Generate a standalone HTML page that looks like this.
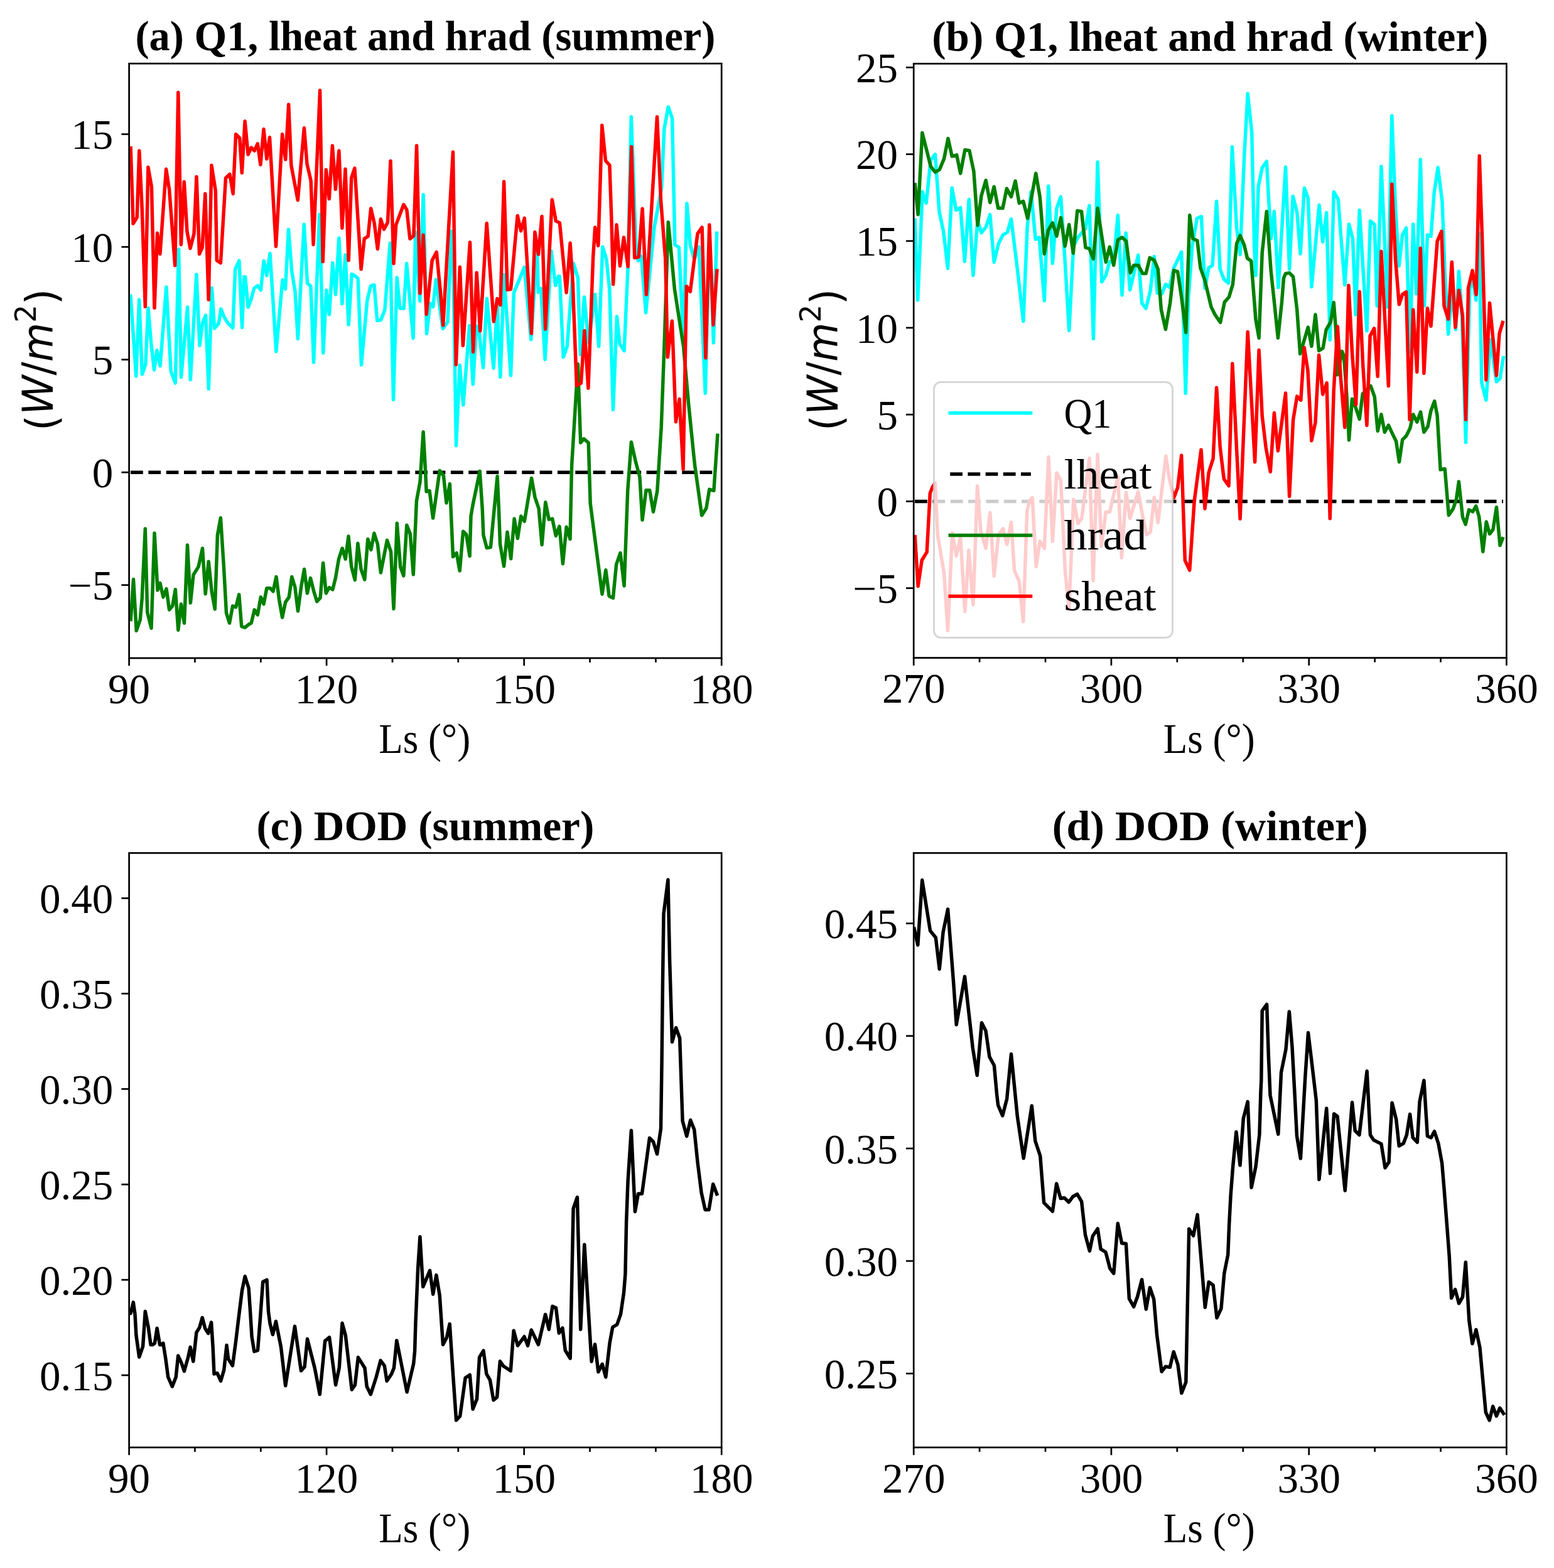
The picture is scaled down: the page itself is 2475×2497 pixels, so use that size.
<!DOCTYPE html>
<html><head><meta charset="utf-8"><title>figure</title><style>html,body{margin:0;padding:0;background:#fff;}svg{display:block;}</style></head><body>
<svg xmlns="http://www.w3.org/2000/svg" width="2475" height="2497" viewBox="0 0 2475 2497">
<rect width="2475" height="2497" fill="#ffffff"/>
<defs>
<clipPath id="clipa"><rect x="205.6" y="101.2" width="943.6" height="946.8"/></clipPath>
<clipPath id="clipb"><rect x="1455.2" y="101.4" width="944.2" height="946.2"/></clipPath>
<clipPath id="clipc"><rect x="205.6" y="1358.4" width="943.6" height="946.6"/></clipPath>
<clipPath id="clipd"><rect x="1455.2" y="1358.4" width="944.2" height="946.6"/></clipPath>
</defs>
<polyline points="207.8,468.7 216.8,599.1 221.7,477.2 226.4,596.0 231.8,580.5 236.0,490.4 240.7,546.3 245.5,589.0 250.0,558.0 255.1,582.8 264.9,457.0 272.2,591.4 279.2,610.0 284.6,397.3 288.5,600.7 298.6,488.9 303.3,604.6 312.9,436.9 318.0,550.2 322.7,513.7 327.6,502.1 332.3,619.3 337.4,458.6 341.6,523.0 348.3,515.3 351.9,492.0 356.8,504.4 362.3,513.7 370.8,522.3 374.7,428.3 380.9,415.1 385.6,521.5 388.7,440.7 390.6,441.0 395.2,489.2 400.2,476.0 404.8,458.9 410.3,455.0 415.4,462.0 420.1,415.4 425.0,438.7 430.0,403.8 434.3,469.8 439.8,559.8 449.9,445.7 454.5,460.4 459.5,365.4 464.6,430.9 470.1,465.1 474.4,539.6 484.3,357.2 489.5,451.1 494.9,455.8 499.6,576.9 508.9,341.6 514.8,562.1 519.8,462.0 524.4,500.8 529.8,418.5 534.5,469.0 539.9,378.9 544.9,483.7 550.0,406.1 555.2,517.1 560.1,436.4 565.6,439.5 570.1,443.5 575.5,581.1 584.8,478.6 590.3,455.3 596.0,453.7 600.7,510.4 606.6,509.6 612.8,494.1 621.3,387.0 626.5,636.5 632.2,442.1 636.9,491.0 643.1,491.0 647.7,419.6 658.1,538.4 661.7,369.9 668.7,479.3 674.1,310.1 679.6,531.4 685.0,483.2 689.7,488.7 694.3,445.2 705.2,523.6 713.0,512.7 719.2,368.3 721.5,400.0 726.5,709.7 732.3,581.4 737.8,645.1 747.7,518.4 753.3,612.0 758.8,519.3 762.9,527.5 769.6,585.5 775.4,475.4 786.1,586.3 791.9,486.1 796.9,600.4 802.7,437.3 813.5,597.9 818.4,466.3 825.9,448.0 835.0,425.7 845.8,540.8 854.9,400.0 855.0,385.0 857.3,465.4 861.5,459.6 868.1,572.3 878.1,400.0 884.7,454.7 889.6,439.8 891.3,440.0 897.2,568.7 903.2,551.6 913.3,419.4 920.4,442.6 924.4,564.7 930.5,472.9 937.5,545.5 947.6,468.8 953.7,551.6 959.7,393.1 965.8,412.3 970.8,460.7 976.5,652.5 982.5,504.1 987.0,547.5 994.1,558.6 1000.1,426.4 1005.3,186.1 1013.3,404.7 1016.5,415.3 1021.4,407.8 1028.6,498.0 1042.0,362.2 1053.7,298.6 1057.9,205.2 1064.3,170.2 1070.6,188.2 1074.9,389.8 1081.3,394.0 1088.5,545.0 1094.0,324.0 1099.3,389.8 1105.7,413.1 1113.1,393.0 1123.3,626.3 1130.0,370.0 1136.4,545.8 1141.7,368.6" fill="none" stroke="#00ffff" stroke-width="5.5" stroke-linejoin="round" stroke-linecap="butt" clip-path="url(#clipa)" />
<line x1="208.0" y1="752.2" x2="1142.5" y2="752.2" stroke="#000" stroke-width="5.5" stroke-dasharray="19.8 8.53" clip-path="url(#clipa)"/>
<polyline points="208.1,989.2 212.5,922.6 217.2,1004.4 223.2,987.2 226.2,952.9 231.3,841.9 234.7,975.1 241.0,1000.3 246.0,848.9 249.5,912.5 250.9,939.8 254.9,928.7 260.0,950.9 265.0,937.7 269.6,971.1 274.7,965.0 279.3,938.8 283.8,1003.4 288.4,962.0 293.5,992.3 298.5,868.1 303.4,960.0 308.0,915.5 316.1,902.4 322.5,873.2 327.2,945.8 332.2,894.3 337.3,942.8 342.3,970.0 346.4,852.0 351.4,824.7 356.4,902.4 360.5,976.1 365.5,992.3 370.6,965.0 375.6,967.0 380.7,946.8 384.7,997.3 390.1,999.3 396.1,994.3 400.2,992.3 405.2,971.1 410.3,979.1 415.3,950.9 420.0,962.0 424.8,936.7 430.5,936.7 434.9,941.8 440.0,918.6 444.6,954.9 449.6,983.2 454.7,958.9 460.3,950.9 464.8,918.6 469.8,934.7 474.5,973.1 479.9,932.7 484.6,906.5 489.4,944.8 494.5,920.6 500.1,942.8 504.8,957.9 510.2,951.9 514.6,896.4 519.3,944.8 524.3,935.7 529.8,938.8 534.4,920.6 539.5,890.3 545.1,873.2 550.2,890.3 555.0,854.0 559.7,902.4 565.3,923.6 569.9,865.3 575.1,906.8 580.8,923.0 585.8,858.4 590.9,875.5 595.9,849.3 601.4,866.5 606.4,911.9 616.5,860.4 622.6,878.6 627.0,969.4 632.3,833.2 637.7,902.8 642.8,916.9 647.8,836.2 653.3,850.3 658.3,914.9 663.4,797.8 669.0,767.5 674.1,687.8 677.1,741.3 679.1,782.7 684.1,781.7 689.6,825.1 700.3,749.4 706.4,757.5 711.0,800.9 716.4,770.6 719.5,842.2 721.5,886.6 727.1,880.6 732.2,908.9 737.6,846.3 742.7,851.3 748.1,885.6 750.0,822.0 753.1,803.9 764.2,750.4 768.3,812.0 769.9,852.3 775.3,872.5 781.4,871.5 792.1,758.5 794.5,812.0 796.5,866.5 802.6,901.8 808.0,847.3 813.7,889.7 819.1,826.1 824.4,857.4 829.8,822.0 835.3,830.1 846.6,761.5 852.0,791.8 858.1,809.9 863.1,867.5 868.8,799.8 874.2,827.1 879.7,826.1 885.3,853.3 891.0,838.2 896.4,897.7 902.1,839.2 908.0,858.4 910.6,741.3 920.4,579.8 924.7,705.0 929.9,698.9 937.2,705.0 940.2,801.9 959.0,946.2 964.8,907.8 970.1,949.2 976.5,952.3 981.6,898.8 988.0,880.6 994.1,933.1 999.7,781.7 1005.4,704.0 1012.9,737.3 1018.9,759.5 1023.0,828.1 1029.0,780.7 1034.7,780.7 1040.5,815.0 1046.8,781.7 1053.2,680.7 1058.3,541.5 1064.3,353.7 1074.4,460.7 1088.5,551.6 1096.6,642.4 1104.7,723.2 1106.6,740.9 1117.7,820.7 1124.8,809.6 1129.8,779.3 1136.9,781.3 1143.0,690.5" fill="none" stroke="#008000" stroke-width="5.5" stroke-linejoin="round" stroke-linecap="butt" clip-path="url(#clipa)" />
<polyline points="208.1,233.0 212.1,356.1 218.2,346.0 221.8,240.0 226.2,331.9 231.3,488.3 235.9,266.3 241.4,297.5 246.0,490.3 250.5,371.2 254.9,404.5 264.6,269.3 269.6,301.6 278.7,422.7 283.8,147.2 288.4,389.4 293.3,289.5 297.9,368.2 303.0,395.5 309.0,372.2 313.0,281.4 317.5,404.5 322.1,394.4 326.8,308.6 332.2,477.2 336.9,263.2 343.3,303.6 345.3,414.6 351.4,418.7 359.5,283.4 365.9,277.4 371.2,308.6 375.6,213.8 381.7,219.8 385.3,275.3 390.1,193.1 395.1,246.1 400.2,235.0 405.2,240.0 410.3,228.9 414.9,262.2 420.0,205.7 424.8,253.1 429.5,218.8 439.5,392.4 449.6,213.8 454.7,254.1 459.7,166.3 463.8,263.2 474.3,318.7 484.4,203.7 489.0,261.2 495.1,287.5 499.1,389.4 509.6,144.1 514.2,416.6 519.3,270.3 524.3,316.7 529.4,231.9 534.4,301.6 539.9,240.0 544.9,363.2 550.0,269.3 555.2,414.6 559.7,283.4 564.9,267.8 575.1,428.8 580.2,380.3 586.2,376.3 590.7,331.9 596.3,356.1 601.4,396.5 606.4,349.0 611.5,365.2 617.5,354.1 622.0,256.2 627.0,419.7 630.7,358.1 642.8,325.8 647.8,333.9 652.9,380.3 658.9,375.3 663.6,231.9 669.0,467.1 674.1,374.3 679.1,500.4 688.2,414.6 695.2,401.5 701.3,463.1 705.7,518.0 721.5,242.0 726.3,580.6 732.4,425.2 737.4,550.3 748.5,385.8 753.6,560.4 759.2,434.2 764.7,527.1 775.2,355.5 786.3,512.0 791.9,475.6 797.0,485.7 802.6,289.3 808.1,461.5 813.5,460.5 824.2,343.4 829.7,367.6 835.3,347.4 846.4,531.1 851.9,369.6 857.5,405.0 863.0,344.4 868.6,524.1 879.3,317.9 885.3,351.9 891.4,354.9 902.1,465.9 908.1,387.1 912.4,452.8 913.3,480.9 918.4,614.2 925.4,610.1 930.9,526.4 936.9,618.2 944.6,410.3 947.7,362.0 952.8,391.2 958.8,199.5 964.5,256.0 970.9,263.0 974.0,351.9 976.6,452.8 982.0,357.9 987.5,423.5 993.5,378.1 1000.2,424.5 1005.7,233.8 1010.7,410.5 1017.3,409.0 1023.1,332.3 1029.4,469.0 1046.5,185.9 1052.7,321.8 1059.8,412.4 1063.3,568.7 1070.4,511.2 1076.4,671.7 1082.1,635.4 1088.1,747.4 1093.4,455.9 1099.3,464.4 1111.0,372.2 1118.1,362.1 1123.9,569.8 1129.8,358.1 1136.0,517.3 1142.0,428.4" fill="none" stroke="#ff0000" stroke-width="5.5" stroke-linejoin="round" stroke-linecap="butt" clip-path="url(#clipa)" />
<polyline points="1457.1,347.7 1461.7,477.9 1469.2,305.3 1475.2,323.5 1482.3,254.9 1489.4,245.8 1493.4,301.3 1496.0,337.6 1502.5,367.9 1509.5,427.5 1516.2,299.3 1522.7,334.6 1529.7,330.6 1536.4,416.4 1543.3,317.5 1549.9,438.6 1557.0,351.8 1563.0,370.9 1570.1,361.9 1576.8,341.7 1583.2,417.4 1590.3,388.1 1597.4,374.0 1604.4,369.9 1610.5,348.7 1619.6,422.4 1629.8,511.7 1636.1,361.9 1642.1,305.3 1649.2,381.0 1655.2,378.0 1663.3,478.9 1669.8,296.3 1676.4,419.4 1682.9,331.6 1689.5,313.4 1696.6,422.4 1702.7,526.4 1709.7,392.1 1716.8,378.0 1728.9,363.9 1735.0,327.5 1741.4,539.5 1748.1,257.9 1754.8,448.7 1761.2,438.6 1767.3,416.4 1773.7,416.4 1780.4,342.7 1787.0,469.9 1793.1,370.9 1799.6,461.8 1812.7,406.3 1818.7,483.0 1825.1,491.1 1832.2,462.9 1838.3,408.4 1843.3,466.9 1850.4,467.9 1856.4,452.8 1862.9,457.8 1869.5,426.6 1881.7,401.3 1888.3,626.4 1892.8,473.0 1898.8,392.2 1906.5,347.8 1913.4,344.8 1919.0,458.9 1925.1,426.6 1931.1,422.5 1937.6,320.6 1943.2,428.6 1949.3,444.7 1956.4,450.8 1962.4,233.8 1969.5,362.0 1975.1,405.4 1981.6,250.9 1987.2,149.0 1993.7,210.6 1997.7,392.2 2000.0,438.7 2004.1,297.4 2010.2,267.1 2017.3,257.0 2020.3,311.5 2024.3,380.1 2029.4,336.7 2036.0,457.8 2047.5,266.1 2053.6,428.6 2059.2,312.5 2065.7,337.7 2071.1,404.3 2077.4,299.4 2083.3,315.5 2088.9,456.8 2101.0,326.6 2106.7,385.2 2112.7,338.7 2118.2,541.3 2124.2,305.4 2131.3,317.5 2135.3,372.0 2141.8,453.8 2148.5,356.9 2154.5,380.1 2159.2,501.2 2165.2,334.7 2176.9,527.0 2182.5,351.9 2189.2,357.9 2193.2,487.1 2199.9,265.1 2210.0,489.1 2216.8,184.3 2222.5,331.7 2228.1,423.5 2233.6,374.1 2239.6,363.0 2245.7,561.1 2250.7,356.9 2255.8,467.9 2262.3,254.0 2268.5,487.1 2273.4,374.1 2279.0,376.1 2284.1,307.5 2290.1,266.8 2297.0,321.4 2301.2,432.6 2306.6,532.0 2312.3,462.4 2318.4,524.8 2323.4,432.1 2328.4,502.8 2334.5,704.4 2340.6,462.4 2345.6,442.2 2350.7,478.0 2355.7,371.6 2359.8,609.6 2366.8,637.3 2373.9,541.1 2383.4,608.0 2389.0,603.0 2394.6,567.0" fill="none" stroke="#00ffff" stroke-width="5.5" stroke-linejoin="round" stroke-linecap="butt" clip-path="url(#clipb)" />
<line x1="1457.1" y1="798.4" x2="2394.0" y2="798.4" stroke="#000" stroke-width="5.5" stroke-dasharray="19.8 8.53" clip-path="url(#clipb)"/>
<polyline points="1457.1,291.2 1462.1,341.7 1468.8,211.5 1475.2,236.7 1482.3,265.0 1489.4,274.1 1496.4,270.0 1503.5,252.9 1510.0,220.6 1516.2,248.8 1523.7,246.8 1529.7,276.1 1536.8,238.7 1543.9,239.7 1550.9,273.0 1557.0,358.8 1563.0,311.4 1570.1,287.2 1576.8,322.5 1583.2,297.3 1589.7,331.6 1597.0,331.6 1603.4,300.3 1610.5,313.4 1617.1,288.2 1623.2,323.5 1629.7,320.5 1636.7,347.7 1649.8,276.1 1656.2,313.4 1659.3,351.8 1663.3,404.3 1669.4,366.9 1676.4,354.8 1682.9,376.0 1689.5,346.7 1696.2,392.1 1702.7,357.8 1709.3,403.2 1715.8,335.6 1722.5,336.6 1728.9,394.2 1735.0,396.2 1741.4,412.3 1748.1,331.6 1754.1,372.0 1761.2,417.4 1767.3,393.2 1773.7,422.4 1780.4,382.0 1787.0,378.0 1793.5,384.1 1800.2,434.5 1805.6,422.4 1812.7,422.4 1819.8,435.5 1825.1,435.6 1831.2,410.4 1838.3,414.4 1844.3,428.6 1849.4,493.2 1856.4,524.5 1863.5,483.1 1869.5,430.6 1875.6,432.6 1881.7,473.0 1888.7,529.5 1894.8,342.8 1899.8,380.1 1906.9,383.2 1911.9,426.6 1919.0,446.7 1929.1,489.1 1935.2,501.2 1943.6,513.4 1950.3,481.1 1957.4,473.0 1963.4,452.8 1969.5,388.2 1975.1,375.1 1981.6,390.2 1986.6,411.4 1992.7,415.5 2000.0,509.3 2005.1,538.3 2010.2,402.3 2017.3,336.7 2024.3,432.6 2028.4,470.7 2035.4,538.3 2041.5,480.7 2044.5,442.7 2047.5,435.6 2053.6,434.6 2059.6,440.7 2065.7,493.2 2070.7,563.5 2083.3,521.1 2088.9,551.4 2095.0,500.9 2100.6,558.5 2107.1,554.4 2112.1,525.2 2119.2,513.0 2124.2,481.8 2127.3,521.1 2130.3,596.8 2137.4,559.5 2140.4,567.5 2144.4,622.0 2148.5,700.8 2153.5,635.2 2159.6,650.3 2165.2,667.5 2170.3,627.1 2183.1,614.6 2189.2,631.8 2194.2,686.3 2199.9,660.0 2205.3,688.3 2211.4,677.2 2218.4,692.3 2223.5,702.4 2228.5,735.7 2233.6,700.4 2239.6,694.3 2245.7,682.2 2250.7,660.0 2256.8,672.1 2262.5,656.0 2267.9,688.3 2274.0,679.2 2279.0,654.0 2284.7,638.8 2289.1,662.0 2294.1,747.8 2301.2,746.8 2307.3,820.5 2314.3,810.4 2319.4,795.3 2323.4,767.0 2329.5,823.5 2334.1,835.1 2339.5,811.9 2345.6,814.9 2350.7,805.8 2355.7,823.0 2361.8,878.5 2367.2,831.1 2372.5,850.2 2377.9,843.2 2383.4,807.8 2389.0,868.4 2394.1,855.3" fill="none" stroke="#008000" stroke-width="5.5" stroke-linejoin="round" stroke-linecap="butt" clip-path="url(#clipb)" />
<polyline points="1457.1,851.9 1462.1,933.6 1468.2,892.2 1476.2,879.1 1481.3,785.2 1485.3,775.2 1489.4,769.1 1493.4,851.9 1498.4,882.1 1503.5,912.4 1509.5,1004.3 1516.6,848.8 1523.1,885.2 1529.7,855.9 1536.8,974.0 1542.9,876.1 1549.9,962.9 1556.6,774.1 1562.0,845.8 1570.1,873.1 1576.8,816.5 1583.2,917.5 1590.3,851.9 1597.4,841.8 1603.8,867.0 1610.5,831.7 1615.5,908.4 1623.2,925.5 1629.7,990.1 1635.7,813.5 1640.0,797.4 1644.1,792.3 1650.2,902.3 1656.2,862.0 1663.3,873.1 1670.0,727.7 1676.4,862.0 1682.9,753.0 1689.5,765.1 1696.6,912.4 1702.7,968.9 1709.7,795.3 1716.8,833.7 1722.9,825.6 1735.0,729.7 1741.0,924.5 1748.1,723.7 1754.1,870.0 1761.2,815.5 1767.3,815.5 1780.4,759.0 1786.4,888.2 1793.5,784.2 1799.6,825.6 1812.7,783.2 1819.8,821.6 1826.1,851.4 1832.2,847.4 1838.3,791.9 1844.3,832.3 1856.8,726.3 1862.5,762.6 1869.5,792.9 1875.6,776.7 1881.7,725.3 1887.3,892.3 1894.7,908.1 1902.2,797.3 1913.0,716.2 1919.0,810.0 1925.1,752.5 1932.1,730.3 1937.6,617.3 1943.2,712.1 1949.3,762.6 1957.0,773.7 1962.8,578.9 1975.1,826.2 1987.2,528.4 1998.6,735.7 2005.1,557.5 2010.2,662.4 2016.2,712.9 2023.3,751.2 2029.4,657.4 2035.4,717.9 2047.5,626.1 2053.6,790.4 2059.6,668.5 2065.7,631.1 2071.8,637.2 2077.2,553.4 2082.9,589.8 2088.9,701.8 2095.0,672.5 2100.6,565.5 2106.7,628.1 2113.1,609.9 2118.2,825.7 2124.2,622.0 2130.3,520.1 2135.3,601.9 2141.8,680.6 2147.9,454.5 2153.5,561.5 2159.6,644.3 2165.2,464.6 2170.7,581.7 2176.9,677.4 2182.1,534.9 2188.6,522.8 2194.2,599.5 2199.9,400.3 2211.4,614.6 2216.8,293.3 2222.5,412.4 2228.3,484.8 2233.6,468.9 2239.6,464.9 2245.1,668.1 2250.7,493.2 2256.8,592.4 2262.3,395.3 2267.9,594.4 2273.4,491.1 2279.0,519.4 2289.1,384.2 2295.9,368.3 2299.9,486.8 2306.6,508.1 2312.3,417.2 2317.9,521.2 2323.4,462.2 2329.5,502.8 2334.5,668.1 2338.5,458.6 2345.1,430.9 2351.2,469.2 2356.2,248.2 2360.7,381.7 2366.8,605.0 2372.5,482.6 2383.4,597.9 2388.0,531.1 2394.1,510.9" fill="none" stroke="#ff0000" stroke-width="5.5" stroke-linejoin="round" stroke-linecap="butt" clip-path="url(#clipb)" />
<polyline points="206.3,2088.3 208.1,2091.4 212.3,2073.9 215.0,2092.7 216.9,2126.5 221.7,2161.0 227.6,2144.1 231.3,2088.3 236.3,2114.0 240.1,2141.6 242.6,2141.6 246.4,2139.1 250.1,2115.2 254.5,2141.6 256.4,2141.6 259.9,2139.1 263.9,2164.1 267.7,2193.0 274.3,2208.0 280.2,2193.0 283.7,2159.1 289.0,2170.4 293.4,2183.6 299.6,2161.6 303.1,2145.3 307.8,2167.9 310.9,2140.3 312.8,2122.1 317.8,2114.0 322.2,2098.3 326.6,2115.2 331.6,2123.4 336.6,2105.8 339.1,2145.3 341.0,2187.9 346.0,2186.7 351.6,2199.2 356.7,2181.7 361.0,2142.2 363.6,2164.1 370.4,2174.8 375.5,2136.6 380.5,2095.2 385.5,2055.1 390.2,2032.5 396.1,2051.3 398.6,2088.9 401.1,2129.0 404.9,2152.2 410.5,2150.3 414.3,2101.5 418.7,2041.3 425.0,2038.2 427.5,2088.9 430.0,2107.7 434.4,2125.3 439.4,2104.3 447.5,2145.3 454.7,2206.7 469.5,2112.1 479.5,2182.9 485.1,2176.7 489.5,2132.2 501.4,2179.2 509.3,2220.5 517.7,2135.3 524.6,2129.7 534.6,2205.5 540.3,2177.9 545.0,2107.1 550.3,2126.5 560.3,2213.0 565.4,2205.5 570.4,2161.6 581.0,2178.5 584.2,2208.0 590.4,2220.5 599.2,2193.0 606.1,2166.6 612.3,2174.8 616.1,2199.2 623.6,2187.9 627.4,2178.5 631.8,2134.7 648.1,2216.8 658.7,2171.6 660.6,2151.6 661.9,2107.7 665.6,2020.0 668.9,1969.6 673.7,2049.1 684.6,2023.4 689.7,2061.1 694.9,2030.6 700.2,2062.7 705.5,2141.3 711.4,2130.1 716.2,2108.4 721.8,2192.7 726.6,2261.7 732.7,2255.2 741.1,2194.3 748.3,2189.5 753.1,2244.0 759.5,2228.0 763.6,2161.4 770.0,2150.9 774.8,2187.8 780.4,2197.5 786.0,2229.6 791.6,2224.8 796.4,2167.8 802.1,2175.8 813.3,2183.0 818.1,2118.9 824.5,2142.9 835.0,2128.5 840.6,2142.9 846.2,2118.0 857.4,2141.3 868.6,2093.2 874.3,2117.2 879.9,2080.3 885.5,2082.7 890.3,2122.9 895.9,2114.8 900.3,2150.5 908.2,2163.2 913.1,1924.7 919.4,1906.5 924.7,2116.9 930.8,1981.9 942.1,2168.2 947.6,2140.9 952.9,2184.8 959.2,2172.3 964.8,2193.0 971.1,2138.4 975.7,2113.5 982.7,2109.4 988.5,2092.8 993.5,2058.9 995.9,2029.1 997.6,1946.3 1000.1,1880.0 1005.4,1800.3 1011.4,1929.4 1016.5,1900.9 1022.5,1900.9 1034.5,1812.3 1040.5,1818.3 1046.5,1837.8 1052.5,1797.3 1054.0,1695.2 1055.5,1560.1 1057.0,1455.1 1063.9,1401.0 1066.6,1530.1 1070.5,1659.2 1076.6,1636.7 1082.6,1653.2 1087.1,1785.3 1093.7,1809.3 1099.7,1783.8 1105.7,1798.8 1111.1,1851.3 1117.1,1899.4 1123.1,1926.4 1129.1,1926.4 1135.7,1885.8 1142.6,1903.9" fill="none" stroke="#000000" stroke-width="5.5" stroke-linejoin="round" stroke-linecap="butt" clip-path="url(#clipc)" />
<polyline points="1455.5,1476.4 1461.8,1504.9 1468.7,1401.6 1481.5,1482.3 1490.3,1493.1 1496.2,1543.3 1502.1,1484.2 1509.6,1447.9 1518.8,1566.9 1523.2,1631.8 1536.5,1555.1 1549.3,1669.1 1556.2,1712.4 1563.5,1628.8 1570.0,1641.6 1575.9,1682.9 1583.4,1696.7 1587.7,1743.9 1589.6,1760.0 1596.7,1776.7 1603.6,1750.1 1610.5,1678.4 1620.3,1777.7 1630.2,1844.6 1643.3,1761.0 1648.8,1817.0 1656.7,1840.6 1662.6,1915.4 1676.4,1929.1 1682.7,1884.9 1689.2,1908.5 1695.1,1907.5 1702.3,1914.4 1708.8,1905.5 1715.7,1901.6 1722.6,1913.4 1728.5,1966.5 1735.4,1992.1 1740.3,1968.5 1748.2,1956.7 1753.1,1989.1 1761.0,1994.0 1767.8,2020.0 1773.8,2027.8 1780.3,1948.2 1786.6,1979.7 1793.4,1980.6 1798.4,2068.2 1805.6,2081.0 1811.5,2065.2 1818.6,2037.7 1825.3,2084.9 1831.4,2050.5 1837.7,2069.2 1842.6,2126.2 1850.1,2184.2 1856.4,2176.3 1863.3,2177.3 1869.2,2152.7 1876.0,2173.4 1881.9,2218.6 1888.8,2200.9 1893.7,1957.0 1900.6,1967.9 1907.1,1934.4 1919.3,2081.9 1925.2,2041.6 1932.1,2046.5 1938.0,2098.7 1944.9,2083.9 1949.8,2027.8 1955.7,1998.3 1957.7,1949.2 1960.1,1903.4 1963.6,1857.7 1968.9,1802.6 1975.0,1855.7 1980.3,1781.0 1987.2,1754.4 1993.1,1891.1 2000.0,1857.7 2005.9,1806.5 2007.9,1739.7 2008.8,1720.0 2010.2,1609.6 2017.6,1599.5 2020.3,1680.9 2023.0,1744.2 2035.8,1806.1 2040.5,1707.8 2047.9,1671.5 2053.3,1611.0 2058.0,1667.5 2062.0,1741.5 2065.4,1808.8 2071.4,1844.9 2078.8,1714.6 2083.5,1644.6 2090.3,1701.1 2096.3,1752.3 2100.9,1878.3 2112.7,1765.0 2118.6,1868.5 2124.6,1773.8 2130.0,1777.8 2142.2,1896.0 2153.5,1755.6 2158.2,1800.7 2164.9,1807.4 2177.1,1705.8 2182.4,1807.4 2187.8,1815.5 2199.9,1821.6 2206.0,1859.7 2212.1,1850.6 2213.8,1812.5 2217.1,1756.2 2223.7,1782.7 2228.2,1824.9 2235.3,1820.8 2240.3,1807.5 2245.6,1774.4 2250.2,1811.7 2257.3,1819.1 2261.0,1754.5 2267.9,1720.6 2273.4,1809.2 2279.2,1811.7 2284.5,1801.7 2290.8,1820.8 2296.6,1852.3 2299.9,1892.0 2304.0,1945.0 2308.2,2000.0 2311.6,2067.1 2317.6,2053.4 2323.6,2075.7 2329.5,2065.4 2334.3,2009.9 2339.8,2103.0 2344.9,2139.7 2350.9,2117.5 2356.9,2145.7 2366.3,2249.0 2372.2,2261.8 2377.7,2239.6 2383.3,2255.0 2388.8,2242.2 2396.1,2253.3" fill="none" stroke="#000000" stroke-width="5.5" stroke-linejoin="round" stroke-linecap="butt" clip-path="url(#clipd)" />
<rect x="1487.5" y="608.5" width="380.0" height="407.0" rx="11" ry="11" fill="#ffffff" fill-opacity="0.8" stroke="#cccccc" stroke-opacity="0.8" stroke-width="3"/>
<line x1="1510.5" y1="657.8" x2="1644.3" y2="657.8" stroke="#00ffff" stroke-width="5.5" />
<text x="1694.4" y="681" font-family="'Liberation Serif', serif" font-size="67" textLength="76" lengthAdjust="spacingAndGlyphs">Q1</text>
<line x1="1513.2" y1="754.9" x2="1641.9" y2="754.9" stroke="#000000" stroke-width="5.5" stroke-dasharray="19.8 8.4"/>
<text x="1694.4" y="778.4" font-family="'Liberation Serif', serif" font-size="67" textLength="140" lengthAdjust="spacingAndGlyphs">lheat</text>
<line x1="1510.5" y1="852.4" x2="1644.3" y2="852.4" stroke="#008000" stroke-width="5.5" />
<text x="1694.4" y="874.7" font-family="'Liberation Serif', serif" font-size="67" textLength="132" lengthAdjust="spacingAndGlyphs">hrad</text>
<line x1="1510.5" y1="949.5" x2="1644.3" y2="949.5" stroke="#ff0000" stroke-width="5.5" />
<text x="1694.4" y="971.6" font-family="'Liberation Serif', serif" font-size="67" textLength="147" lengthAdjust="spacingAndGlyphs">sheat</text>
<rect x="205.6" y="101.2" width="943.6" height="946.8" fill="none" stroke="#000" stroke-width="2.7" stroke-linejoin="miter"/>
<line x1="205.6" y1="1048.0" x2="205.6" y2="1060.2" stroke="#000" stroke-width="2.7"/>
<text x="205.6" y="1119.6" font-family="'Liberation Serif', serif" font-size="67" text-anchor="middle">90</text>
<line x1="310.4" y1="1048.0" x2="310.4" y2="1055.0" stroke="#000" stroke-width="2.7"/>
<line x1="415.3" y1="1048.0" x2="415.3" y2="1055.0" stroke="#000" stroke-width="2.7"/>
<line x1="520.1" y1="1048.0" x2="520.1" y2="1060.2" stroke="#000" stroke-width="2.7"/>
<text x="520.1" y="1119.6" font-family="'Liberation Serif', serif" font-size="67" text-anchor="middle">120</text>
<line x1="625.0" y1="1048.0" x2="625.0" y2="1055.0" stroke="#000" stroke-width="2.7"/>
<line x1="729.8" y1="1048.0" x2="729.8" y2="1055.0" stroke="#000" stroke-width="2.7"/>
<line x1="834.7" y1="1048.0" x2="834.7" y2="1060.2" stroke="#000" stroke-width="2.7"/>
<text x="834.7" y="1119.6" font-family="'Liberation Serif', serif" font-size="67" text-anchor="middle">150</text>
<line x1="939.5" y1="1048.0" x2="939.5" y2="1055.0" stroke="#000" stroke-width="2.7"/>
<line x1="1044.4" y1="1048.0" x2="1044.4" y2="1055.0" stroke="#000" stroke-width="2.7"/>
<line x1="1149.2" y1="1048.0" x2="1149.2" y2="1060.2" stroke="#000" stroke-width="2.7"/>
<text x="1149.2" y="1119.6" font-family="'Liberation Serif', serif" font-size="67" text-anchor="middle">180</text>
<line x1="193.4" y1="931.7" x2="205.6" y2="931.7" stroke="#000" stroke-width="2.7"/>
<text x="180.3" y="955.3" font-family="'Liberation Serif', serif" font-size="67" text-anchor="end">−5</text>
<line x1="193.4" y1="752.2" x2="205.6" y2="752.2" stroke="#000" stroke-width="2.7"/>
<text x="180.3" y="775.8" font-family="'Liberation Serif', serif" font-size="67" text-anchor="end">0</text>
<line x1="193.4" y1="572.7" x2="205.6" y2="572.7" stroke="#000" stroke-width="2.7"/>
<text x="180.3" y="596.3" font-family="'Liberation Serif', serif" font-size="67" text-anchor="end">5</text>
<line x1="193.4" y1="393.2" x2="205.6" y2="393.2" stroke="#000" stroke-width="2.7"/>
<text x="180.3" y="416.8" font-family="'Liberation Serif', serif" font-size="67" text-anchor="end">10</text>
<line x1="193.4" y1="213.7" x2="205.6" y2="213.7" stroke="#000" stroke-width="2.7"/>
<text x="180.3" y="237.3" font-family="'Liberation Serif', serif" font-size="67" text-anchor="end">15</text>
<text x="215.4" y="80.4" font-family="'Liberation Serif', serif" font-size="67" font-weight="bold" textLength="924" lengthAdjust="spacingAndGlyphs">(a) Q1, lheat and hrad (summer)</text>
<text x="603.2" y="0" transform="translate(0.0,1199.0)" font-family="'Liberation Serif', serif" font-size="67" textLength="146" lengthAdjust="spacingAndGlyphs">Ls (°)</text>
<text transform="translate(84.0,573.1) rotate(-90)" x="-113" y="0" font-family="'DejaVu Sans', 'Liberation Sans', sans-serif" font-size="67" textLength="226" lengthAdjust="spacingAndGlyphs"><tspan dy="6">(</tspan><tspan dy="-6" font-style="italic">W</tspan>/<tspan font-style="italic">m</tspan><tspan font-size="47" dy="-27">2</tspan><tspan dy="33">)</tspan></text>
<rect x="1455.2" y="101.4" width="944.2" height="946.2" fill="none" stroke="#000" stroke-width="2.7" stroke-linejoin="miter"/>
<line x1="1455.2" y1="1047.6" x2="1455.2" y2="1059.8" stroke="#000" stroke-width="2.7"/>
<text x="1455.2" y="1119.2" font-family="'Liberation Serif', serif" font-size="67" text-anchor="middle">270</text>
<line x1="1560.1" y1="1047.6" x2="1560.1" y2="1054.6" stroke="#000" stroke-width="2.7"/>
<line x1="1665.0" y1="1047.6" x2="1665.0" y2="1054.6" stroke="#000" stroke-width="2.7"/>
<line x1="1769.9" y1="1047.6" x2="1769.9" y2="1059.8" stroke="#000" stroke-width="2.7"/>
<text x="1769.9" y="1119.2" font-family="'Liberation Serif', serif" font-size="67" text-anchor="middle">300</text>
<line x1="1874.8" y1="1047.6" x2="1874.8" y2="1054.6" stroke="#000" stroke-width="2.7"/>
<line x1="1979.8" y1="1047.6" x2="1979.8" y2="1054.6" stroke="#000" stroke-width="2.7"/>
<line x1="2084.7" y1="1047.6" x2="2084.7" y2="1059.8" stroke="#000" stroke-width="2.7"/>
<text x="2084.7" y="1119.2" font-family="'Liberation Serif', serif" font-size="67" text-anchor="middle">330</text>
<line x1="2189.6" y1="1047.6" x2="2189.6" y2="1054.6" stroke="#000" stroke-width="2.7"/>
<line x1="2294.5" y1="1047.6" x2="2294.5" y2="1054.6" stroke="#000" stroke-width="2.7"/>
<line x1="2399.4" y1="1047.6" x2="2399.4" y2="1059.8" stroke="#000" stroke-width="2.7"/>
<text x="2399.4" y="1119.2" font-family="'Liberation Serif', serif" font-size="67" text-anchor="middle">360</text>
<line x1="1443.0" y1="936.6" x2="1455.2" y2="936.6" stroke="#000" stroke-width="2.7"/>
<text x="1429.9" y="960.2" font-family="'Liberation Serif', serif" font-size="67" text-anchor="end">−5</text>
<line x1="1443.0" y1="798.4" x2="1455.2" y2="798.4" stroke="#000" stroke-width="2.7"/>
<text x="1429.9" y="822.0" font-family="'Liberation Serif', serif" font-size="67" text-anchor="end">0</text>
<line x1="1443.0" y1="660.2" x2="1455.2" y2="660.2" stroke="#000" stroke-width="2.7"/>
<text x="1429.9" y="683.8" font-family="'Liberation Serif', serif" font-size="67" text-anchor="end">5</text>
<line x1="1443.0" y1="522.0" x2="1455.2" y2="522.0" stroke="#000" stroke-width="2.7"/>
<text x="1429.9" y="545.6" font-family="'Liberation Serif', serif" font-size="67" text-anchor="end">10</text>
<line x1="1443.0" y1="383.8" x2="1455.2" y2="383.8" stroke="#000" stroke-width="2.7"/>
<text x="1429.9" y="407.4" font-family="'Liberation Serif', serif" font-size="67" text-anchor="end">15</text>
<line x1="1443.0" y1="245.6" x2="1455.2" y2="245.6" stroke="#000" stroke-width="2.7"/>
<text x="1429.9" y="269.2" font-family="'Liberation Serif', serif" font-size="67" text-anchor="end">20</text>
<line x1="1443.0" y1="107.4" x2="1455.2" y2="107.4" stroke="#000" stroke-width="2.7"/>
<text x="1429.9" y="131.0" font-family="'Liberation Serif', serif" font-size="67" text-anchor="end">25</text>
<text x="1484.3" y="80.6" font-family="'Liberation Serif', serif" font-size="67" font-weight="bold" textLength="886" lengthAdjust="spacingAndGlyphs">(b) Q1, lheat and hrad (winter)</text>
<text x="603.2" y="0" transform="translate(1249.6,1198.6)" font-family="'Liberation Serif', serif" font-size="67" textLength="146" lengthAdjust="spacingAndGlyphs">Ls (°)</text>
<text transform="translate(1333.6,573.0) rotate(-90)" x="-113" y="0" font-family="'DejaVu Sans', 'Liberation Sans', sans-serif" font-size="67" textLength="226" lengthAdjust="spacingAndGlyphs"><tspan dy="6">(</tspan><tspan dy="-6" font-style="italic">W</tspan>/<tspan font-style="italic">m</tspan><tspan font-size="47" dy="-27">2</tspan><tspan dy="33">)</tspan></text>
<rect x="205.6" y="1358.4" width="943.6" height="946.6" fill="none" stroke="#000" stroke-width="2.7" stroke-linejoin="miter"/>
<line x1="205.6" y1="2305.0" x2="205.6" y2="2317.2" stroke="#000" stroke-width="2.7"/>
<text x="205.6" y="2376.6" font-family="'Liberation Serif', serif" font-size="67" text-anchor="middle">90</text>
<line x1="310.4" y1="2305.0" x2="310.4" y2="2312.0" stroke="#000" stroke-width="2.7"/>
<line x1="415.3" y1="2305.0" x2="415.3" y2="2312.0" stroke="#000" stroke-width="2.7"/>
<line x1="520.1" y1="2305.0" x2="520.1" y2="2317.2" stroke="#000" stroke-width="2.7"/>
<text x="520.1" y="2376.6" font-family="'Liberation Serif', serif" font-size="67" text-anchor="middle">120</text>
<line x1="625.0" y1="2305.0" x2="625.0" y2="2312.0" stroke="#000" stroke-width="2.7"/>
<line x1="729.8" y1="2305.0" x2="729.8" y2="2312.0" stroke="#000" stroke-width="2.7"/>
<line x1="834.7" y1="2305.0" x2="834.7" y2="2317.2" stroke="#000" stroke-width="2.7"/>
<text x="834.7" y="2376.6" font-family="'Liberation Serif', serif" font-size="67" text-anchor="middle">150</text>
<line x1="939.5" y1="2305.0" x2="939.5" y2="2312.0" stroke="#000" stroke-width="2.7"/>
<line x1="1044.4" y1="2305.0" x2="1044.4" y2="2312.0" stroke="#000" stroke-width="2.7"/>
<line x1="1149.2" y1="2305.0" x2="1149.2" y2="2317.2" stroke="#000" stroke-width="2.7"/>
<text x="1149.2" y="2376.6" font-family="'Liberation Serif', serif" font-size="67" text-anchor="middle">180</text>
<line x1="193.4" y1="2190.0" x2="205.6" y2="2190.0" stroke="#000" stroke-width="2.7"/>
<text x="180.3" y="2213.6" font-family="'Liberation Serif', serif" font-size="67" text-anchor="end">0.15</text>
<line x1="193.4" y1="2038.1" x2="205.6" y2="2038.1" stroke="#000" stroke-width="2.7"/>
<text x="180.3" y="2061.7" font-family="'Liberation Serif', serif" font-size="67" text-anchor="end">0.20</text>
<line x1="193.4" y1="1886.2" x2="205.6" y2="1886.2" stroke="#000" stroke-width="2.7"/>
<text x="180.3" y="1909.8" font-family="'Liberation Serif', serif" font-size="67" text-anchor="end">0.25</text>
<line x1="193.4" y1="1734.2" x2="205.6" y2="1734.2" stroke="#000" stroke-width="2.7"/>
<text x="180.3" y="1757.8" font-family="'Liberation Serif', serif" font-size="67" text-anchor="end">0.30</text>
<line x1="193.4" y1="1582.3" x2="205.6" y2="1582.3" stroke="#000" stroke-width="2.7"/>
<text x="180.3" y="1605.9" font-family="'Liberation Serif', serif" font-size="67" text-anchor="end">0.35</text>
<line x1="193.4" y1="1430.4" x2="205.6" y2="1430.4" stroke="#000" stroke-width="2.7"/>
<text x="180.3" y="1454.0" font-family="'Liberation Serif', serif" font-size="67" text-anchor="end">0.40</text>
<text x="408.4" y="1337.6" font-family="'Liberation Serif', serif" font-size="67" font-weight="bold" textLength="538" lengthAdjust="spacingAndGlyphs">(c) DOD (summer)</text>
<text x="603.2" y="0" transform="translate(0.0,2456.0)" font-family="'Liberation Serif', serif" font-size="67" textLength="146" lengthAdjust="spacingAndGlyphs">Ls (°)</text>
<rect x="1455.2" y="1358.4" width="944.2" height="946.6" fill="none" stroke="#000" stroke-width="2.7" stroke-linejoin="miter"/>
<line x1="1455.2" y1="2305.0" x2="1455.2" y2="2317.2" stroke="#000" stroke-width="2.7"/>
<text x="1455.2" y="2376.6" font-family="'Liberation Serif', serif" font-size="67" text-anchor="middle">270</text>
<line x1="1560.1" y1="2305.0" x2="1560.1" y2="2312.0" stroke="#000" stroke-width="2.7"/>
<line x1="1665.0" y1="2305.0" x2="1665.0" y2="2312.0" stroke="#000" stroke-width="2.7"/>
<line x1="1769.9" y1="2305.0" x2="1769.9" y2="2317.2" stroke="#000" stroke-width="2.7"/>
<text x="1769.9" y="2376.6" font-family="'Liberation Serif', serif" font-size="67" text-anchor="middle">300</text>
<line x1="1874.8" y1="2305.0" x2="1874.8" y2="2312.0" stroke="#000" stroke-width="2.7"/>
<line x1="1979.8" y1="2305.0" x2="1979.8" y2="2312.0" stroke="#000" stroke-width="2.7"/>
<line x1="2084.7" y1="2305.0" x2="2084.7" y2="2317.2" stroke="#000" stroke-width="2.7"/>
<text x="2084.7" y="2376.6" font-family="'Liberation Serif', serif" font-size="67" text-anchor="middle">330</text>
<line x1="2189.6" y1="2305.0" x2="2189.6" y2="2312.0" stroke="#000" stroke-width="2.7"/>
<line x1="2294.5" y1="2305.0" x2="2294.5" y2="2312.0" stroke="#000" stroke-width="2.7"/>
<line x1="2399.4" y1="2305.0" x2="2399.4" y2="2317.2" stroke="#000" stroke-width="2.7"/>
<text x="2399.4" y="2376.6" font-family="'Liberation Serif', serif" font-size="67" text-anchor="middle">360</text>
<line x1="1443.0" y1="2187.3" x2="1455.2" y2="2187.3" stroke="#000" stroke-width="2.7"/>
<text x="1429.9" y="2210.9" font-family="'Liberation Serif', serif" font-size="67" text-anchor="end">0.25</text>
<line x1="1443.0" y1="2008.1" x2="1455.2" y2="2008.1" stroke="#000" stroke-width="2.7"/>
<text x="1429.9" y="2031.7" font-family="'Liberation Serif', serif" font-size="67" text-anchor="end">0.30</text>
<line x1="1443.0" y1="1828.9" x2="1455.2" y2="1828.9" stroke="#000" stroke-width="2.7"/>
<text x="1429.9" y="1852.5" font-family="'Liberation Serif', serif" font-size="67" text-anchor="end">0.35</text>
<line x1="1443.0" y1="1649.7" x2="1455.2" y2="1649.7" stroke="#000" stroke-width="2.7"/>
<text x="1429.9" y="1673.3" font-family="'Liberation Serif', serif" font-size="67" text-anchor="end">0.40</text>
<line x1="1443.0" y1="1470.5" x2="1455.2" y2="1470.5" stroke="#000" stroke-width="2.7"/>
<text x="1429.9" y="1494.1" font-family="'Liberation Serif', serif" font-size="67" text-anchor="end">0.45</text>
<text x="1675.8" y="1337.6" font-family="'Liberation Serif', serif" font-size="67" font-weight="bold" textLength="503" lengthAdjust="spacingAndGlyphs">(d) DOD (winter)</text>
<text x="603.2" y="0" transform="translate(1249.6,2456.0)" font-family="'Liberation Serif', serif" font-size="67" textLength="146" lengthAdjust="spacingAndGlyphs">Ls (°)</text>
</svg>
</body></html>
